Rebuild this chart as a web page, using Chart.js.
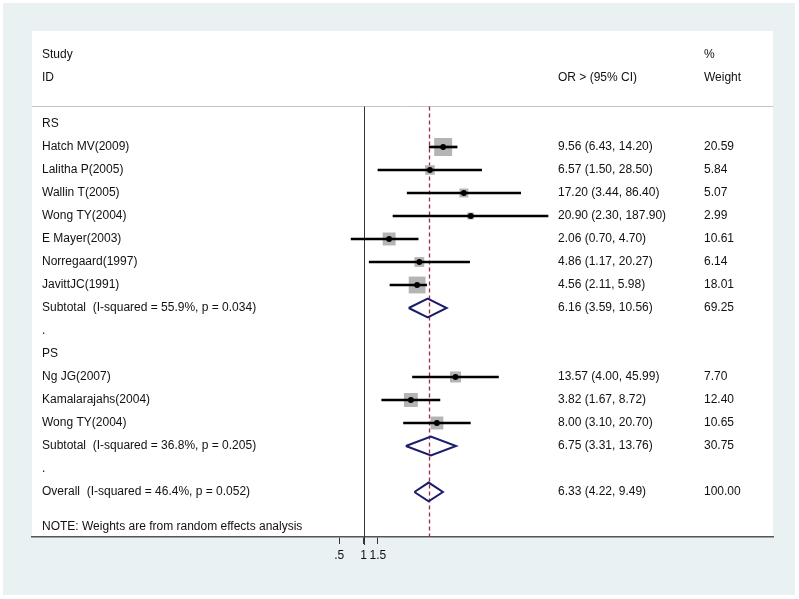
<!DOCTYPE html>
<html lang="en">
<head>
    <meta charset="UTF-8">
    <title>Forest plot - OR (95% CI)</title>
    <script src="https://cdn.jsdelivr.net/npm/chart.js"></script>
    <style>
        body, html {
            margin: 0;
            padding: 0;
            background: #ffffff;
        }
        .chart-box {
            width: 799px;
            height: 599px;
        }
    </style>
</head>
<body>
    <div class="chart-box">
        <canvas id="forest"></canvas>
    </div>

    <script>
        // rows, top to bottom
        var rowLabels = ['RS', 'Hatch MV(2009)', 'Lalitha P(2005)', 'Wallin T(2005)', 'Wong TY(2004)',
            'E Mayer(2003)', 'Norregaard(1997)', 'JavittJC(1991)',
            'Subtotal  (I-squared = 55.9%, p = 0.034)', '.',
            'PS', 'Ng JG(2007)', 'Kamalarajahs(2004)', 'Wong TY(2004)',
            'Subtotal  (I-squared = 36.8%, p = 0.205)', '.',
            'Overall  (I-squared = 46.4%, p = 0.052)'];
        var rowKind = ['head', 'study', 'study', 'study', 'study', 'study', 'study', 'study', 'pooled', 'gap',
            'head', 'study', 'study', 'study', 'pooled', 'gap', 'pooled'];
        var orValues = [null, 9.56, 6.57, 17.20, 20.90, 2.06, 4.86, 4.56, 6.16, null,
            null, 13.57, 3.82, 8.00, 6.75, null, 6.33];
        var ciLower = [null, 6.43, 1.50, 3.44, 2.30, 0.70, 1.17, 2.11, 3.59, null,
            null, 4.00, 1.67, 3.10, 3.31, null, 4.22];
        var ciUpper = [null, 14.20, 28.50, 86.40, 187.90, 4.70, 20.27, 5.98, 10.56, null,
            null, 45.99, 8.72, 20.70, 13.76, null, 9.49];
        var weights = [null, 20.59, 5.84, 5.07, 2.99, 10.61, 6.14, 18.01, 69.25, null,
            null, 7.70, 12.40, 10.65, 30.75, null, 100.00];
        var tickValues = [0.5, 1, 1.5];
        var tickLabels = ['.5', '1', '1.5'];
        var overallOR = 6.33;
        var noteText = 'NOTE: Weights are from random effects analysis';

        var FONT = '12px "Liberation Sans", Arial, sans-serif';

        var studyPts = [], ciBars = [], diamonds = [];
        rowKind.forEach(function (k, i) {
            if (k === 'study') {
                studyPts.push({ x: orValues[i], y: i, w: weights[i] });
                ciBars.push({ x: [ciLower[i], ciUpper[i]], y: i });
            } else if (k === 'pooled') {
                diamonds.push([
                    { x: ciLower[i], y: i },
                    { x: orValues[i], y: i - 0.41 },
                    { x: ciUpper[i], y: i },
                    { x: orValues[i], y: i + 0.41 },
                    { x: ciLower[i], y: i }
                ]);
            }
        });

        var datasets = [
            {
                type: 'scatter',
                data: studyPts,
                pointStyle: 'rect',
                pointRadius: function (c) { return c.raw ? 2.8 * Math.sqrt(c.raw.w) : 0; },
                backgroundColor: '#b4b4b4',
                borderWidth: 0,
                order: 3
            },
            {
                type: 'bar',
                indexAxis: 'y',
                data: ciBars,
                barThickness: 2,
                backgroundColor: '#000000',
                order: 2
            },
            {
                type: 'scatter',
                data: studyPts,
                pointStyle: 'circle',
                pointRadius: 2.9,
                backgroundColor: '#000000',
                borderWidth: 0,
                order: 1
            }
        ];
        diamonds.forEach(function (d) {
            datasets.push({
                type: 'scatter',
                data: d,
                showLine: true,
                fill: false,
                pointRadius: 0,
                borderColor: '#1b1d6b',
                borderWidth: 2,
                order: 1
            });
        });

        var forestDecor = {
            id: 'forestDecor',
            beforeDraw: function (chart) {
                var ctx = chart.ctx, a = chart.chartArea;
                ctx.save();
                ctx.fillStyle = '#eaf1f3';
                ctx.fillRect(3, 3, 792, 592);
                ctx.fillStyle = '#ffffff';
                ctx.fillRect(a.left, a.top, a.right - a.left, a.bottom - a.top);
                ctx.restore();
            },
            beforeDatasetsDraw: function (chart) {
                var ctx = chart.ctx, a = chart.chartArea;
                var xs = chart.scales.x, ys = chart.scales.y;
                var lineY = Math.round(ys.getPixelForValue(-0.8)) + 0.5;
                ctx.save();
                // header rule
                ctx.strokeStyle = '#c4c4c4';
                ctx.lineWidth = 1;
                ctx.beginPath();
                ctx.moveTo(a.left, lineY);
                ctx.lineTo(a.right, lineY);
                ctx.stroke();
                // null line at OR = 1
                var x1 = Math.round(xs.getPixelForValue(1)) + 0.5;
                ctx.strokeStyle = '#333333';
                ctx.beginPath();
                ctx.moveTo(x1, lineY);
                ctx.lineTo(x1, a.bottom + 8);
                ctx.stroke();
                // overall estimate, dashed
                var xo = Math.round(xs.getPixelForValue(overallOR)) + 0.5;
                ctx.strokeStyle = '#a02c44';
                ctx.lineWidth = 1.3;
                ctx.setLineDash([4, 3]);
                ctx.beginPath();
                ctx.moveTo(xo, lineY);
                ctx.lineTo(xo, a.bottom);
                ctx.stroke();
                ctx.restore();
            },
            afterDraw: function (chart) {
                var ctx = chart.ctx;
                var ys = chart.scales.y;
                ctx.save();
                ctx.font = FONT;
                ctx.fillStyle = '#111111';
                ctx.textBaseline = 'middle';
                ctx.textAlign = 'left';
                // headers
                ctx.fillText('Study', 42, ys.getPixelForValue(-3));
                ctx.fillText('ID', 42, ys.getPixelForValue(-2));
                ctx.fillText('OR > (95% CI)', 558, ys.getPixelForValue(-2));
                ctx.fillText('%', 704, ys.getPixelForValue(-3));
                ctx.fillText('Weight', 704, ys.getPixelForValue(-2));
                rowLabels.forEach(function (lab, i) {
                    var y = ys.getPixelForValue(i);
                    ctx.fillText(lab, 42, y);
                    if (orValues[i] !== null) {
                        ctx.fillText(orValues[i].toFixed(2) + ' (' + ciLower[i].toFixed(2) + ', ' +
                            ciUpper[i].toFixed(2) + ')', 558, y);
                        ctx.fillText(weights[i].toFixed(2), 704, y);
                    }
                });
                ctx.fillText(noteText, 42, ys.getPixelForValue(17.5));
                ctx.restore();
            }
        };

        new Chart(document.getElementById('forest'), {
            type: 'scatter',
            data: { datasets: datasets },
            options: {
                responsive: true,
                maintainAspectRatio: false,
                animation: false,
                layout: { padding: { left: 32, right: 26, top: 31, bottom: 0 } },
                plugins: { legend: { display: false }, tooltip: { enabled: false } },
                scales: {
                    x: {
                        type: 'logarithmic',
                        bounds: 'data',
                        offset: false,
                        min: 8.1e-5,
                        max: 1.12e5,
                        afterBuildTicks: function (scale) {
                            scale.ticks = tickValues.map(function (v) { return { value: v }; });
                        },
                        afterFit: function (scale) { scale.height = 62; },
                        ticks: {
                            autoSkip: false,
                            maxRotation: 0,
                            padding: 4,
                            color: '#111111',
                            font: { family: '"Liberation Sans", Arial, sans-serif', size: 12 },
                            callback: function (v) {
                                var i = tickValues.indexOf(v);
                                return i >= 0 ? tickLabels[i] : '';
                            }
                        },
                        grid: {
                            offset: false,
                            drawOnChartArea: false,
                            drawTicks: true,
                            tickLength: 7,
                            color: '#333333'
                        },
                        border: { display: true, color: '#555555', width: 1.5 }
                    },
                    y: {
                        type: 'linear',
                        reverse: true,
                        offset: false,
                        grid: { offset: false },
                        min: -4.043,
                        max: 17.957,
                        display: false
                    }
                }
            },
            plugins: [forestDecor]
        });
    </script>
</body>
</html>
